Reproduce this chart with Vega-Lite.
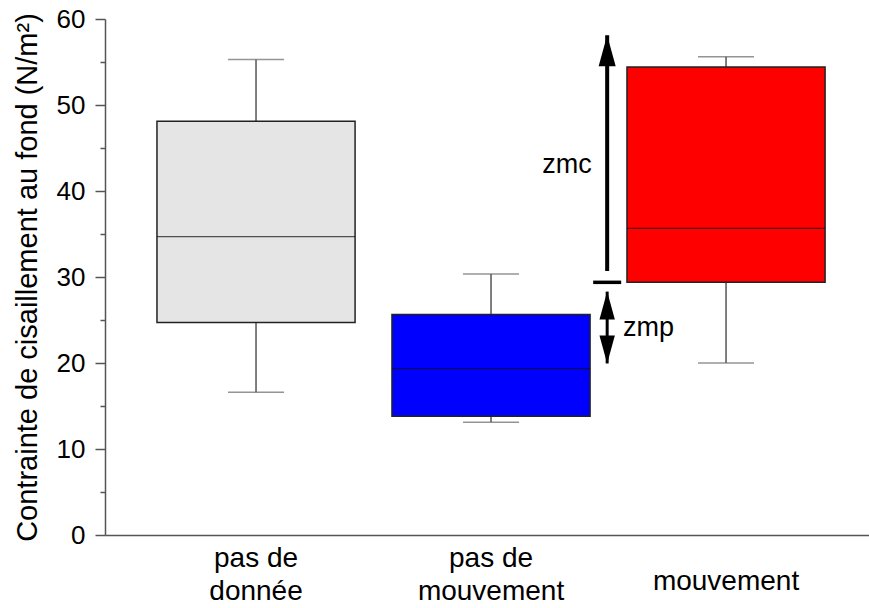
{
  "$schema": "https://vega.github.io/schema/vega-lite/v6.json",
  "width": 764,
  "height": 516,
  "autosize": {"type": "none"},
  "padding": {"left": 105, "top": 19, "right": 0, "bottom": 73},
  "background": "white",
  "config": {"view": {"stroke": null}, "font": "Liberation Sans"},
  "datasets": {
    "boxes": [
      {"cat": "pas de donnée", "low": 16.6, "q1": 24.7, "median": 34.7, "q3": 48.1, "high": 55.3},
      {"cat": "pas de mouvement", "low": 13.1, "q1": 13.8, "median": 19.35, "q3": 25.65, "high": 30.35},
      {"cat": "mouvement", "low": 20.0, "q1": 29.38, "median": 35.65, "q3": 54.42, "high": 55.6}
    ],
    "zmc": [{"cat": "mouvement", "base": 29.38, "start": 30.7, "tip": 58.1, "label": "zmc", "ly": 43.0}],
    "zmp": [{"cat": "mouvement", "top": 28.3, "bottom": 19.95, "label": "zmp", "ly": 24.1}]
  },
  "layer": [
    {
      "mark": {"type": "rule", "color": "#666", "strokeWidth": 1.5},
      "encoding": {
        "y": {"datum": 60, "type": "quantitative", "scale": {"domain": [0, 60], "nice": false, "zero": true},
          "axis": {
            "values": [0, 5, 10, 15, 20, 25, 30, 35, 40, 45, 50, 55, 60],
            "labelExpr": "datum.value % 10 === 0 ? datum.label : ''",
            "tickSize": {"condition": {"test": "datum.value % 10 === 0", "value": 10}, "value": 5},
            "grid": false,
            "domainColor": "#555",
            "domainWidth": 1.5,
            "tickColor": "#555",
            "tickWidth": 1.5,
            "labelFontSize": 26,
            "labelColor": "black",
            "labelPadding": 10,
            "title": "Contrainte de cisaillement au fond (N/m²)",
            "titleFontSize": 29,
            "titleFontWeight": "normal",
            "titleColor": "black",
            "titlePadding": 14
          }
        }
      }
    },
    {
      "data": {"name": "boxes"},
      "mark": {"type": "rule", "color": "#555", "strokeWidth": 1.5},
      "encoding": {
        "x": {
          "field": "cat", "type": "nominal", "sort": null,
          "scale": {"paddingInner": 0.157, "paddingOuter": 0.204, "align": 0.542},
          "axis": {
            "title": null,
            "ticks": false,
            "domainColor": "#555",
            "domainWidth": 1.5,
            "labelAngle": 0,
            "labelExpr": "datum.value === 'mouvement' ? 'mouvement' : [slice(datum.value, 0, 6), slice(datum.value, 7)]",
            "labelFont": "Liberation Sans",
            "labelFontSize": 28,
            "labelLineHeight": 33,
            "labelColor": "black",
            "labelBaseline": "middle",
            "labelPadding": {"condition": {"test": "datum.value === 'mouvement'", "value": 46}, "value": 23}
          }
        },
        "y": {"field": "low", "type": "quantitative"},
        "y2": {"field": "high"}
      }
    },
    {
      "data": {"name": "boxes"},
      "mark": {"type": "tick", "color": "#666", "size": 56, "thickness": 1.5},
      "encoding": {
        "x": {"field": "cat", "type": "nominal", "sort": null},
        "y": {"field": "low", "type": "quantitative"}
      }
    },
    {
      "data": {"name": "boxes"},
      "mark": {"type": "tick", "color": "#666", "size": 56, "thickness": 1.5},
      "encoding": {
        "x": {"field": "cat", "type": "nominal", "sort": null},
        "y": {"field": "high", "type": "quantitative"}
      }
    },
    {
      "data": {"name": "boxes"},
      "mark": {"type": "bar", "stroke": "#222", "strokeWidth": 1.5, "opacity": 1},
      "encoding": {
        "x": {"field": "cat", "type": "nominal", "sort": null},
        "y": {"field": "q1", "type": "quantitative"},
        "y2": {"field": "q3"},
        "fill": {"field": "cat", "type": "nominal", "legend": null,
          "scale": {"domain": ["pas de donnée", "pas de mouvement", "mouvement"], "range": ["#e5e5e5", "#0000ff", "#ff0000"]}}
      }
    },
    {
      "data": {"name": "boxes"},
      "mark": {"type": "tick", "color": "#111", "size": 198, "thickness": 1.3},
      "encoding": {
        "x": {"field": "cat", "type": "nominal", "sort": null},
        "y": {"field": "median", "type": "quantitative"}
      }
    },
    {
      "data": {"name": "zmc"},
      "mark": {"type": "rule", "color": "black", "strokeWidth": 4},
      "encoding": {
        "x": {"field": "cat", "type": "nominal", "sort": null, "bandPosition": -0.1},
        "y": {"field": "start", "type": "quantitative"},
        "y2": {"field": "tip"}
      }
    },
    {
      "data": {"name": "zmc"},
      "mark": {"type": "point", "filled": true, "color": "black", "opacity": 1, "strokeWidth": 0, "size": 961, "shape": "M0,0L0.55,2L-0.55,2Z"},
      "encoding": {
        "x": {"field": "cat", "type": "nominal", "sort": null, "bandPosition": -0.1},
        "y": {"field": "tip", "type": "quantitative"}
      }
    },
    {
      "data": {"name": "zmc"},
      "mark": {"type": "point", "filled": true, "color": "black", "opacity": 1, "strokeWidth": 0, "size": 784, "shape": "M-1,-0.125L1,-0.125L1,0.125L-1,0.125Z"},
      "encoding": {
        "x": {"field": "cat", "type": "nominal", "sort": null, "bandPosition": -0.1},
        "y": {"field": "base", "type": "quantitative"}
      }
    },
    {
      "data": {"name": "zmc"},
      "mark": {"type": "text", "align": "right", "baseline": "middle", "fontSize": 27, "color": "black", "font": "Liberation Sans"},
      "encoding": {
        "x": {"field": "cat", "type": "nominal", "sort": null, "bandPosition": -0.178},
        "y": {"field": "ly", "type": "quantitative"},
        "text": {"field": "label"}
      }
    },
    {
      "data": {"name": "zmp"},
      "mark": {"type": "rule", "color": "black", "strokeWidth": 3},
      "encoding": {
        "x": {"field": "cat", "type": "nominal", "sort": null, "bandPosition": -0.1},
        "y": {"field": "top", "type": "quantitative"},
        "y2": {"field": "bottom"}
      }
    },
    {
      "data": {"name": "zmp"},
      "mark": {"type": "point", "filled": true, "color": "black", "opacity": 1, "strokeWidth": 0, "size": 784, "shape": "M0,0L0.55,2L-0.55,2Z"},
      "encoding": {
        "x": {"field": "cat", "type": "nominal", "sort": null, "bandPosition": -0.1},
        "y": {"field": "top", "type": "quantitative"}
      }
    },
    {
      "data": {"name": "zmp"},
      "mark": {"type": "point", "filled": true, "color": "black", "opacity": 1, "strokeWidth": 0, "size": 784, "shape": "M0,0L0.55,-2L-0.55,-2Z"},
      "encoding": {
        "x": {"field": "cat", "type": "nominal", "sort": null, "bandPosition": -0.1},
        "y": {"field": "bottom", "type": "quantitative"}
      }
    },
    {
      "data": {"name": "zmp"},
      "mark": {"type": "text", "align": "left", "baseline": "middle", "fontSize": 27, "color": "black", "font": "Liberation Sans"},
      "encoding": {
        "x": {"field": "cat", "type": "nominal", "sort": null, "bandPosition": -0.02},
        "y": {"field": "ly", "type": "quantitative"},
        "text": {"field": "label"}
      }
    }
  ]
}
